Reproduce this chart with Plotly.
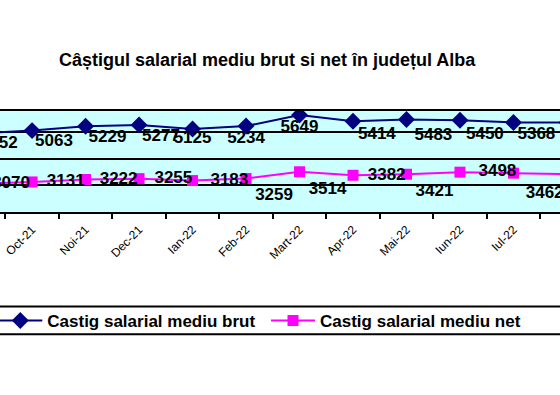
import plotly.graph_objects as go

months = ["Sep-21", "Oct-21", "Noi-21", "Dec-21", "Ian-22", "Feb-22", "Mart-22",
          "Apr-22", "Mai-22", "Iun-22", "Iul-22", "Aug-22"]
brut = [4952, 5063, 5229, 5277, 5125, 5234, 5649, 5414, 5483, 5450, 5368, 5372]
net = [3070, 3131, 3222, 3255, 3183, 3259, 3514, 3382, 3421, 3498, 3462, 3430]

title_text = "Câștigul salarial mediu brut si net în județul Alba"
name_brut = "Castig salarial mediu brut"
name_net = "Castig salarial mediu net"

# label placement (style only): text position + invisible spacer size per point
brut_lbl_pos = ["bottom right", "bottom right", "bottom right", "bottom right", "bottom center",
                "bottom center", "bottom center", "bottom right", "bottom right", "bottom right",
                "bottom right", "bottom right"]
brut_lbl_gap = [0.5, 3.2, 3.2, 3.2, 0.5, 4.8, 4.8, 6.4, 11.2, 8, 4.8, 8]
net_lbl_pos = ["middle right", "middle right", "middle right", "middle right", "middle right",
               "bottom right", "bottom right", "middle right", "bottom right", "middle right",
               "bottom right", "middle right"]
net_lbl_gap = [20, 22, 21, 23, 27, 13, 13, 22, 13, 28, 18, 22]

FONT = "Arial, Liberation Sans, sans-serif"
lbl_font = dict(family=FONT, size=17, color="black", weight="bold")

fig = go.Figure()
fig.add_trace(go.Scatter(
    x=months, y=brut, name=name_brut, mode="lines+markers",
    line=dict(color="#000080", width=2),
    marker=dict(symbol="diamond", size=13, color="#000080"),
    legend="legend",
))
fig.add_trace(go.Scatter(
    x=months, y=net, name=name_net, mode="lines+markers",
    line=dict(color="#ff00ff", width=2),
    marker=dict(symbol="square", size=11, color="#ff00ff"),
    legend="legend2",
))
# data labels
fig.add_trace(go.Scatter(
    x=months, y=brut, mode="markers+text", showlegend=False, hoverinfo="skip",
    marker=dict(size=brut_lbl_gap, opacity=0),
    text=[str(v) for v in brut], textposition=brut_lbl_pos, textfont=lbl_font,
))
fig.add_trace(go.Scatter(
    x=months, y=net, mode="markers+text", showlegend=False, hoverinfo="skip",
    marker=dict(size=net_lbl_gap, opacity=0),
    text=[str(v) for v in net], textposition=net_lbl_pos, textfont=lbl_font,
))

# legend frame (extends past both edges of the picture, as in the reference)
fig.add_shape(type="rect", xref="paper", yref="paper",
              x0=-0.05, x1=1.05, y0=-0.935, y1=-1.21,
              line=dict(color="black", width=2), fillcolor="rgba(0,0,0,0)")

leg_common = dict(
    orientation="h", yanchor="middle", y=-1.079, xanchor="left",
    bgcolor="rgba(0,0,0,0)", borderwidth=0, itemwidth=44,
    font=dict(family=FONT, size=17, color="black", weight="bold"),
)

fig.update_layout(
    width=560, height=395,
    margin=dict(l=0, r=0, t=111, b=183, autoexpand=False),
    paper_bgcolor="white",
    plot_bgcolor="#ccffff",
    title=dict(text=title_text, x=0.477, xanchor="center", y=1 - 60 / 395, yanchor="middle",
               font=dict(family=FONT, size=18, color="black", weight="bold")),
    xaxis=dict(
        type="category", range=[0.40, 10.87],
        tickson="boundaries", ticks="outside", ticklen=5, tickwidth=2, tickcolor="black",
        showline=True, linecolor="black", linewidth=2, mirror=True,
        showgrid=False, tickangle=-45, automargin=False, ticklabelstandoff=4,
        tickfont=dict(family=FONT, size=12, color="black"),
    ),
    yaxis=dict(
        range=[2000, 5800], dtick=1000, tick0=2000,
        showgrid=True, gridcolor="black", gridwidth=2,
        showticklabels=False, zeroline=False, showline=False, ticks="",
        automargin=False,
    ),
    showlegend=True,
    legend=dict(x=-0.012, **leg_common),
    legend2=dict(x=0.475, **leg_common),
)

fig.write_html("out.html", config={"displayModeBar": False},
               post_script="document.body.style.margin='0';")
